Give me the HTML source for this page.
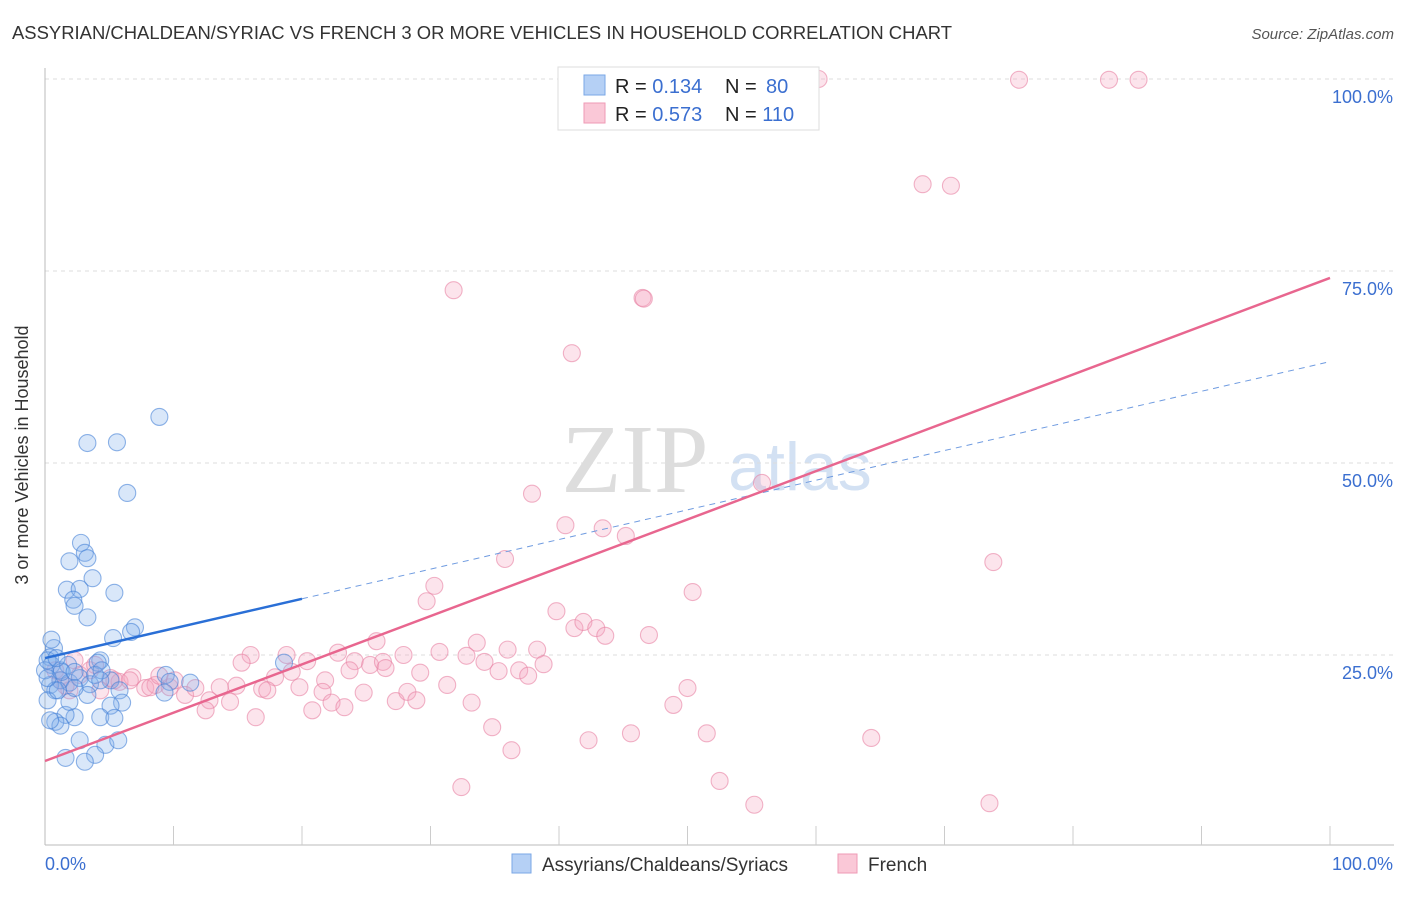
<!DOCTYPE html>
<html><head><meta charset="utf-8"><style>
body{margin:0;background:#fff;font-family:"Liberation Sans",sans-serif;}
</style></head><body>
<svg id="chart" width="1406" height="892" viewBox="0 0 1406 892">
<text x="12" y="39" font-size="18" fill="#333" textLength="940" lengthAdjust="spacingAndGlyphs">ASSYRIAN/CHALDEAN/SYRIAC VS FRENCH 3 OR MORE VEHICLES IN HOUSEHOLD CORRELATION CHART</text>
<text x="1394" y="39" font-size="15" fill="#555" font-style="italic" text-anchor="end">Source: ZipAtlas.com</text>
<text x="635" y="492" font-size="98" fill="#ddd" font-family="Liberation Serif,serif" text-anchor="middle">ZIP</text>
<text x="800" y="490" font-size="68" fill="#d3e1f3" text-anchor="middle">atlas</text>
<g id="grid"></g><g id="axes"></g><g id="pink"></g><g id="blue"></g><g id="lines"></g>
<text x="28" y="455" font-size="18" fill="#333" text-anchor="middle" transform="rotate(-90 28 455)">3 or more Vehicles in Household</text>
<g>
<rect x="558" y="67" width="261" height="63" fill="#fff" stroke="#ddd"/>
<rect x="584" y="75" width="21" height="20" fill="#b5d0f5" stroke="#7aa7e6"/>
<rect x="584" y="103" width="21" height="20" fill="#fac8d7" stroke="#ef9ab5"/>
<text x="615" y="93" font-size="20" fill="#222">R = <tspan fill="#3b6fd0">0.134</tspan><tspan x="725">N = </tspan><tspan fill="#3b6fd0" x="766">80</tspan></text>
<text x="615" y="121" font-size="20" fill="#222">R = <tspan fill="#3b6fd0">0.573</tspan><tspan x="725">N = </tspan><tspan fill="#3b6fd0">110</tspan></text>
</g>
<g>
<rect x="512" y="854" width="19" height="19" fill="#b5d0f5" stroke="#7aa7e6"/>
<text x="542" y="871" font-size="19" fill="#333">Assyrians/Chaldeans/Syriacs</text>
<rect x="838" y="854" width="19" height="19" fill="#fac8d7" stroke="#ef9ab5"/>
<text x="868" y="871" font-size="19" fill="#333">French</text>
</g>
</svg>
<script>
const blueX=[3.3,5.6,8.9,6.4,2.8,1.9,3.1,3.3,1.7,3.7,2.7,2.2,2.3,5.4,3.3,7.0,6.7,5.3,0.7,0.4,0.5,1.2,1.8,4.3,4.1,1.2,1.9,0.4,0.8,2.7,3.5,5.1,5.8,9.4,9.7,11.3,9.3,6.0,5.1,4.3,5.4,2.3,1.6,0.8,1.2,1.9,2.7,4.7,5.7,3.9,3.1,1.6,0.2,0.4,18.6,0.0,1.3,2.3,3.9,1.0,0.2,0.5,3.3,2.3,4.4,0.2,0.9,4.3];
const blueY=[52.6,52.7,56.0,46.1,39.6,37.2,38.3,37.6,33.5,35.0,33.6,32.2,31.4,33.1,29.9,28.6,28.0,27.2,25.9,24.7,23.7,23.0,23.7,24.3,24.0,21.7,21.4,21.1,20.4,22.0,21.2,21.7,20.4,22.4,21.5,21.4,20.1,18.8,18.4,16.9,16.8,16.9,17.2,16.3,15.8,18.9,13.9,13.3,13.9,12.0,11.1,11.6,19.1,16.5,24.0,23.0,22.8,22.8,22.4,20.4,24.3,27.0,19.8,20.7,23.0,22.0,24.6,21.7];
const pinkX=[60.2,75.8,82.8,85.1,48.2,57.5,68.3,70.5,31.8,46.5,46.6,41.0,37.9,55.8,40.5,43.4,45.2,35.8,73.8,30.3,29.7,50.4,39.8,41.2,41.9,42.9,43.6,47.0,25.8,33.6,36.0,38.3,30.7,32.8,34.2,27.9,16.0,18.8,20.4,22.8,24.1,25.3,26.3,26.5,15.3,17.9,19.2,21.8,23.7,29.2,35.3,36.9,37.6,38.8,21.6,19.8,16.9,17.3,14.9,13.6,12.8,14.4,12.5,16.4,20.8,22.3,23.3,24.8,27.3,28.2,28.9,31.3,33.2,48.9,50.0,34.8,36.3,42.3,45.6,51.5,64.3,32.4,52.5,55.2,73.5,1.2,1.9,2.7,3.5,4.3,5.1,5.8,6.8,7.8,8.6,9.7,10.9,11.7,2.3,3.9,5.4,6.6,8.2,8.9,10.1,0.8,1.6];
const pinkY=[100,99.9,99.9,99.9,99.9,99.9,86.3,86.1,72.5,71.5,71.4,64.3,46.0,47.4,41.9,41.5,40.5,37.5,37.1,34.0,32.0,33.2,30.7,28.5,29.3,28.5,27.5,27.6,26.8,26.6,25.7,25.7,25.4,24.9,24.1,25.0,25.0,25.0,24.2,25.3,24.2,23.7,24.1,23.3,24.0,22.1,22.8,21.7,23.0,22.7,22.9,23.0,22.3,23.8,20.2,20.8,20.6,20.4,21.0,20.8,19.1,18.9,17.8,16.9,17.8,18.8,18.2,20.1,19.0,20.2,19.1,21.1,18.8,18.5,20.7,15.6,12.6,13.9,14.8,14.8,14.2,7.8,8.6,5.5,5.7,21.7,20.4,22.4,23.0,20.4,22.0,21.5,22.1,20.7,21.1,20.8,19.8,20.7,24.3,23.7,21.7,21.7,20.8,22.3,21.7,23.0,21.0];
const blueTrend=[24.6,63.2]; // y at x=0 and x=100
const pinkTrend=[11.2,74.1];
const yTicks=[25,50,75,100];
const yTickLabels=["25.0%","50.0%","75.0%","100.0%"];
const xTickCount=10;

const NS="http://www.w3.org/2000/svg";
const sx=v=>45+v*12.85, sy=v=>847-v*7.68;
function mk(parent,tag,attrs){const e=document.createElementNS(NS,tag);for(const k in attrs)e.setAttribute(k,attrs[k]);document.getElementById(parent).appendChild(e);return e;}
yTicks.forEach((t,i)=>{
 const g=mk('grid','line',{x1:45,x2:1394,y1:sy(t),y2:sy(t),stroke:'#ddd','stroke-dasharray':'4,4'});
 
 
 const l=mk('axes','text',{x:1393,y:sy(t)+24,'font-size':18,fill:'#3b6fd0','text-anchor':'end'});l.textContent=yTickLabels[i];
 
 
});
const ax=mk('axes','line',{x1:45,x2:1394,y1:845,y2:845,stroke:'#bbb'});


const ay=mk('axes','line',{x1:45,x2:45,y1:68,y2:845,stroke:'#bbb'});


for(let i=1;i<=xTickCount;i++){const t=mk('axes','line',{x1:sx(i*10),x2:sx(i*10),y1:826,y2:845,stroke:'#ccc'});
 
 }
const x0=mk('axes','text',{x:45,y:870,'font-size':18,fill:'#3b6fd0'});x0.textContent='0.0%';


const x1=mk('axes','text',{x:1393,y:870,'font-size':18,fill:'#3b6fd0','text-anchor':'end'});x1.textContent='100.0%';


pinkX.forEach((x,i)=>{const c=mk('pink','circle',{cx:sx(x),cy:sy(pinkY[i]),r:8.5,fill:'rgba(246,166,192,0.3)',stroke:'rgba(232,130,163,0.6)','stroke-width':1.1});
 
 });
blueX.forEach((x,i)=>{const c=mk('blue','circle',{cx:sx(x),cy:sy(blueY[i]),r:8.5,fill:'rgba(130,175,235,0.3)',stroke:'rgba(70,130,215,0.6)','stroke-width':1.1});
 
 });
const bAt=x=>blueTrend[0]+(blueTrend[1]-blueTrend[0])*x/100;
const pAt=x=>pinkTrend[0]+(pinkTrend[1]-pinkTrend[0])*x/100;
const bs=mk('lines','line',{x1:sx(0),y1:sy(bAt(0)),x2:sx(20),y2:sy(bAt(20)),stroke:'#2a6fd6','stroke-width':2.5});


const bd=mk('lines','line',{x1:sx(20),y1:sy(bAt(20)),x2:sx(100),y2:sy(bAt(100)),stroke:'#6f9be0','stroke-width':1,'stroke-dasharray':'6,5'});


const pl=mk('lines','line',{x1:sx(0),y1:sy(pAt(0)),x2:sx(100),y2:sy(pAt(100)),stroke:'#e8668f','stroke-width':2.5});


</script>
</body></html>
